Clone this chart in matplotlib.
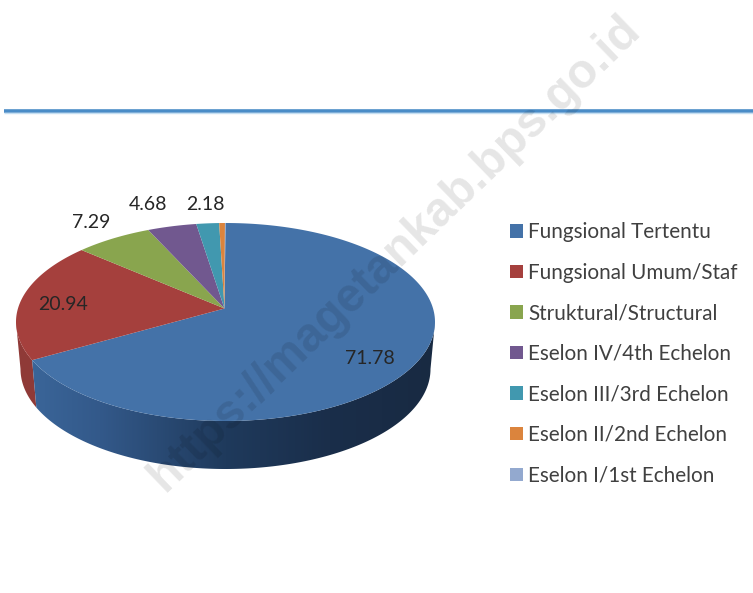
import numpy as np
import matplotlib
matplotlib.use('Agg')
import matplotlib.pyplot as plt
from matplotlib.colors import LinearSegmentedColormap
from matplotlib.patches import Polygon

Categories = ['Fungsional Tertentu', 'Fungsional Umum/Staf', 'Struktural/Structural',
              'Eselon IV/4th Echelon', 'Eselon III/3rd Echelon', 'Eselon II/2nd Echelon',
              'Eselon I/1st Echelon']
Values = [71.78, 20.94, 7.29, 4.68, 2.18, 0.55, 0.05]
Value_labels = ['71.78', '20.94', '7.29', '4.68', '2.18']
Colors = ['#4472a8', '#a5403d', '#89a54e', '#71588f', '#4198af', '#db843d', '#93a9cf']

# label places, in picture pixels
Label_x = [370, 63, 91, 148, 205]
Label_y = [358, 304, 222, 204, 205]

plt.rcParams['font.family'] = ['Lato', 'DejaVu Sans']

fig = plt.figure(figsize=(7.53, 5.93), dpi=100)
ax = fig.add_axes([0, 0, 1, 1])


def ellipse(theta, cy, rx, ry):
    return 225.5 + rx * np.cos(theta), cy - ry * np.sin(theta)


def top_edge(theta):
    return ellipse(theta, 322, 209.5, 99)


def low_edge(theta):
    return ellipse(theta, 369, 205, 100)


# slice borders, clockwise from the top, with the tilt of the 3d view
share = np.cumsum([0] + Values) / sum(Values)
share = share - 0.022 * np.sin(2 * np.pi * share)
borders = np.pi / 2 - 2 * np.pi * share

# side of the pie
blue_end = borders[1] + 2 * np.pi
th = np.linspace(np.pi, blue_end, 30)
x1, y1 = top_edge(th)
x2, y2 = low_edge(th[::-1])
ax.fill(np.r_[x1, x2], np.r_[y1, y2], color='#8f3a37', lw=0)

th = np.linspace(blue_end, 2 * np.pi, 200)
x1, y1 = top_edge(th)
x2, y2 = low_edge(th[::-1])
side = Polygon(np.c_[np.r_[x1, x2], np.r_[y1, y2]], closed=True, facecolor='none', edgecolor='none',
               transform=ax.transData)
ax.add_patch(side)
shade = LinearSegmentedColormap.from_list('shade', [(0, '#3c689c'), (0.2, '#33598a'), (0.5, '#1f3a5c'),
                                                     (0.75, '#1a2e4a'), (1, '#182a42')])
img = ax.imshow(np.linspace(0, 1, 256).reshape(1, -1), cmap=shade, extent=(16, 435, 470, 320), aspect='auto',
                zorder=1)
img.set_clip_path(side)

# top of the pie
handles = []
for k in range(len(Values)):
    th = np.linspace(borders[k], borders[k + 1], 200)
    x, y = top_edge(th)
    poly = ax.fill(np.r_[224.5, x], np.r_[308.5, y], color=Colors[k], lw=0, zorder=2)[0]
    handles.append(poly)

for k in range(len(Value_labels)):
    ax.text(Label_x[k], Label_y[k], Value_labels[k], fontsize=14, color='#262626', ha='center', va='center',
            zorder=4)

ax.legend(handles, Categories, loc='upper left', bbox_to_anchor=(0.677, 0.625), frameon=False, fontsize=14.85,
          labelcolor='#404040', handlelength=0.63, handleheight=0.63, handletextpad=0.25, labelspacing=0.995,
          borderpad=0, borderaxespad=0)

# blue rule above the chart
ax.plot([4, 753], [110.5, 110.5], color='#4a8cc7', lw=2.6, solid_capstyle='butt', zorder=2)
ax.plot([4, 753], [113, 113], color='#c5dff2', lw=1.0, solid_capstyle='butt', zorder=2)

ax.text(395, 253, 'https://magetankab.bps.go.id', fontsize=34.4, fontweight='bold', family=['Liberation Sans'],
        color='black', alpha=0.1, rotation=44, rotation_mode='anchor', ha='center', va='center', zorder=5)

ax.set_xlim(0, 753)
ax.set_ylim(593, 0)
ax.axis('off')

fig.savefig('out.png', dpi=100)
